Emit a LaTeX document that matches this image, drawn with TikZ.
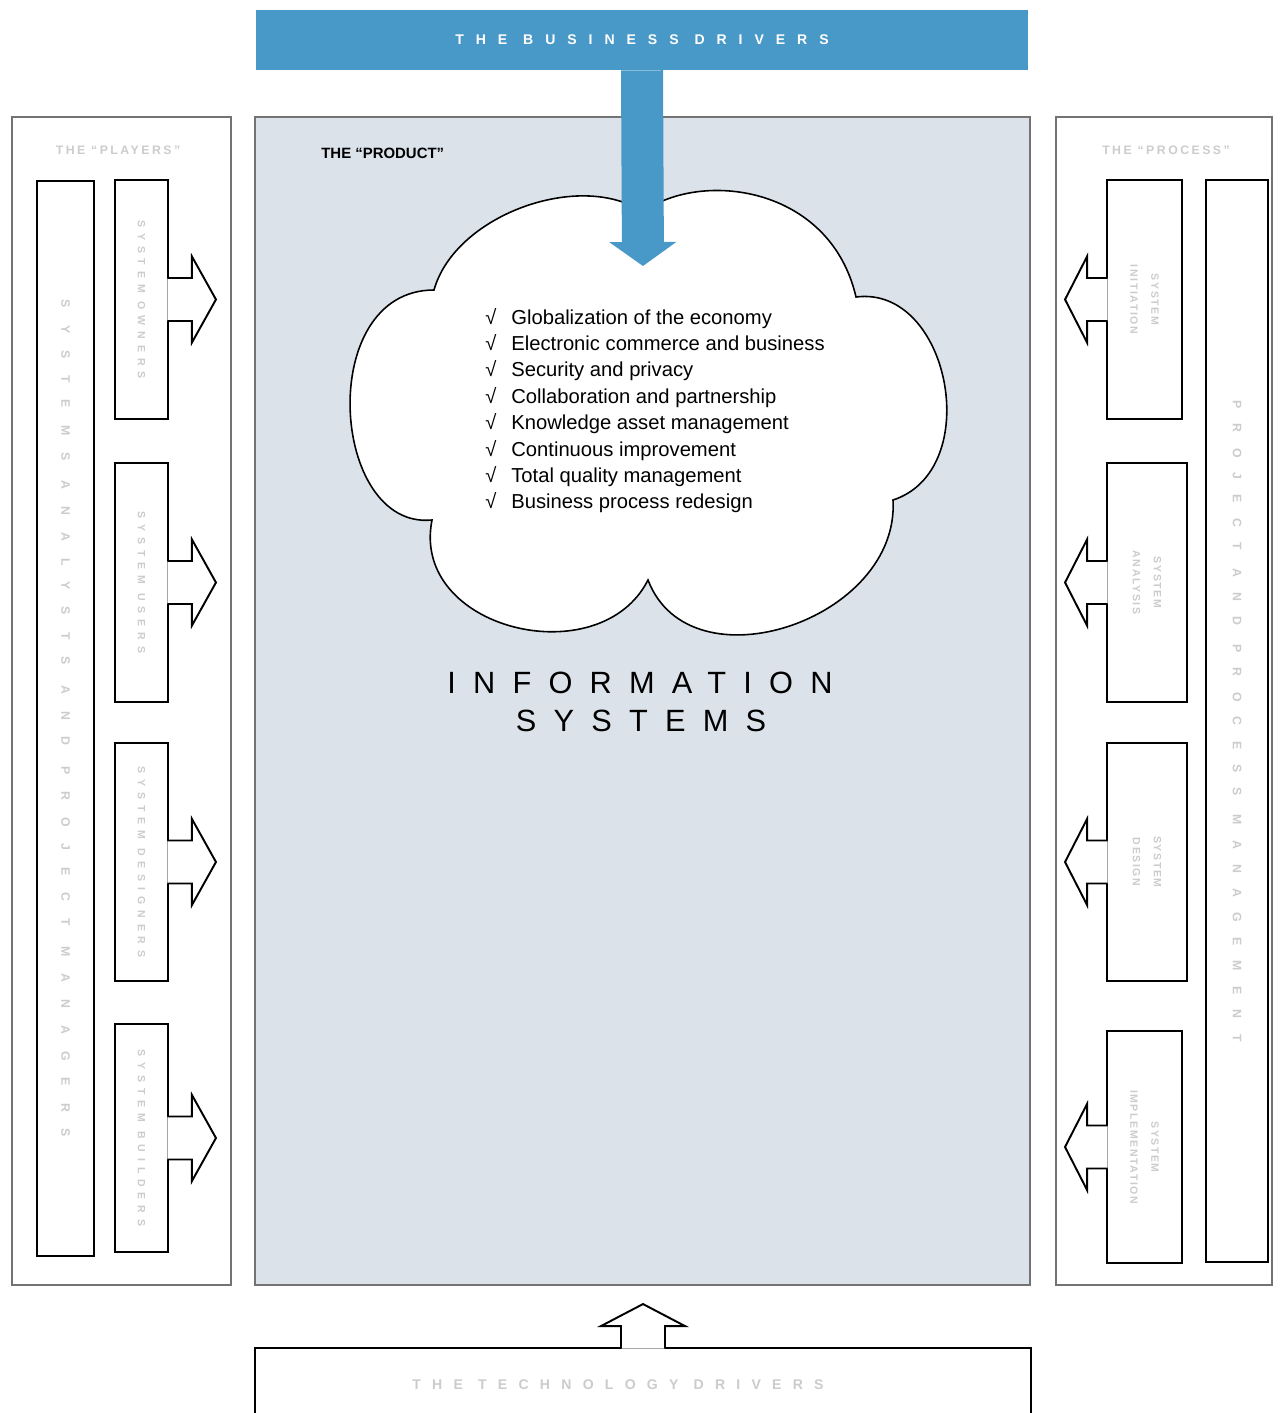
\documentclass[tikz,border=0pt]{standalone}
\usepackage{fontspec}
\setmainfont{Liberation Sans}
\usepackage{tikz}
\usetikzlibrary{positioning, calc, arrows.meta}
\definecolor{drvblue}{RGB}{72,152,200}
\definecolor{panelfill}{RGB}{219,226,234}

\begin{document}
\begin{tikzpicture}[
    x=0.02cm, y=-0.02cm,
    panel/.style={draw=black!55, line width=0.8pt},
    column/.style={draw, line width=1.1pt, fill=white, inner sep=0pt},
    boxline/.style={line width=1.1pt, fill=white, line join=miter},
    faint/.style 2 args={text=black!20, inner sep=0pt, align=center,
        font=\fontsize{#1}{12}\selectfont\bfseries\addfontfeature{LetterSpace=#2}},
    listitem/.style={anchor=base west, inner sep=0pt, font=\fontsize{11.5}{13}\selectfont}
]
\useasboundingbox (0,0) rectangle (1285,1413);

% Panels
\draw[panel] (12,117) rectangle (231,1285);
\draw[panel, fill=panelfill] (255,117) rectangle (1030,1285);
\draw[panel] (1056,117) rectangle (1272,1285);

% Headers
\node[faint={7}{20}] (playhdr) at (118,150) {THE “PLAYERS”};
\node[faint={7}{20}] (prochdr) at (1166,150) {THE “PROCESS”};
\node[anchor=west, inner sep=0pt, font=\fontsize{8.5}{10}\selectfont\bfseries] (prodhdr) at (321,153) {THE “PRODUCT”};

% Business drivers
\node[fill=drvblue, minimum width=15.44cm, minimum height=1.2cm, text=white,
      font=\fontsize{8}{10}\selectfont\bfseries\addfontfeature{LetterSpace=85}] (bizbar) at (642,40) {THE BUSINESS DRIVERS};

% The cloud
\draw[line width=0.9pt, fill=white] (434,290) .. controls (455,215) and (580,170) .. (643,212)
    .. controls (700,170) and (830,185) .. (856,297)
    .. controls (950,285) and (985,470) .. (893,500)
    .. controls (900,620) and (690,690) .. (648,580)
    .. controls (600,675) and (410,630) .. (432,520)
    .. controls (330,530) and (315,290) .. (434,290) -- cycle;
\coordinate (drop) at (643,266);
\draw[drvblue, line width=0.84cm, -{Triangle[width=1.32cm, length=0.48cm]}] (bizbar.south) -- (drop);

% Drivers list
\foreach \i/\txt in {0/Globalization of the economy, 1/Electronic commerce and business,
    2/Security and privacy, 3/Collaboration and partnership, 4/Knowledge asset management,
    5/Continuous improvement, 6/Total quality management, 7/Business process redesign} {
  \node[listitem] (chk\i) at (485,{324+26.4*\i}) {√};
  \node[listitem] (item\i) at (511,{324+26.4*\i}) {\txt};
}

\node[inner sep=0pt, font=\fontsize{17.5}{20}\selectfont\addfontfeature{LetterSpace=56}] (info) at (640,683) {INFORMATION};
\node[inner sep=0pt, font=\fontsize{17.5}{20}\selectfont\addfontfeature{LetterSpace=56}] (sys) at (641,721) {SYSTEMS};

% The players
\node[column, minimum width=1.14cm, minimum height=21.5cm] (analysts) at (65.5,718.5) {};
\node[faint={7}{138}, rotate=-90] (analysts-txt) at (analysts) {SYSTEMS ANALYSTS AND PROJECT MANAGERS};
\foreach \n/\ya/\yb/\txt in {1/180/419/SYSTEM OWNERS, 2/463/702/SYSTEM USERS,
    3/743/981/SYSTEM DESIGNERS, 4/1024/1252/SYSTEM BUILDERS} {
  \node[column, minimum width=1.06cm, minimum height={(\yb-\ya)*0.02cm}] (own\n) at (141.5,{(\ya+\yb)/2}) {};
  \filldraw[boxline] ($(own\n.east)+(-1.5,-21.5)$) -- ++(24.5,0) -- ++(0,-21.5) -- ($(own\n.east)+(47,0)$)
      -- ($(own\n.east)+(23,43)$) -- ++(0,-21.5) -- ($(own\n.east)+(-1.5,21.5)$);
  \node[faint={6}{56}, rotate=-90] (own\n-txt) at (own\n) {\txt};
}

% The process
\node[column, minimum width=1.24cm, minimum height=21.64cm] (projmgmt) at (1237,721) {};
\node[faint={7}{124}, rotate=-90] (projmgmt-txt) at (projmgmt) {PROJECT AND PROCESS MANAGEMENT};
\foreach \n/\ya/\yb/\xr/\txt in {1/180/419/1182/SYSTEM\\INITIATION, 2/463/702/1187/SYSTEM\\ANALYSIS,
    3/743/981/1187/SYSTEM\\DESIGN, 4/1031/1263/1182/SYSTEM\\IMPLEMENTATION} {
  \node[column, minimum width={(\xr-1107)*0.02cm}, minimum height={(\yb-\ya)*0.02cm}] (proc\n) at ({(1107+\xr)/2},{(\ya+\yb)/2}) {};
  \filldraw[boxline] ($(proc\n.west)+(1.5,-21.5)$) -- ++(-20.5,0) -- ++(0,-21.5) -- ($(proc\n.west)+(-41,0)$)
      -- ($(proc\n.west)+(-19,43)$) -- ++(0,-21.5) -- ($(proc\n.west)+(1.5,21.5)$);
  \node[faint={6}{15}, rotate=-90] (proc\n-txt) at (proc\n) {\txt};
}

% Technology drivers
\node[column, minimum width=15.52cm, minimum height=1.64cm] (techbox) at (643,1389) {};
\filldraw[boxline] ($(techbox.north)+(-22,1.5)$) -- ++(0,-22.5) -- ++(-20,0) -- ($(techbox.north)+(0,-43)$)
    -- ($(techbox.north)+(42,-21)$) -- ++(-20,0) -- ($(techbox.north)+(22,1.5)$);
\node[faint={8}{80}] (techtxt) at (618,1385) {THE TECHNOLOGY DRIVERS};

\end{tikzpicture}
\end{document}
